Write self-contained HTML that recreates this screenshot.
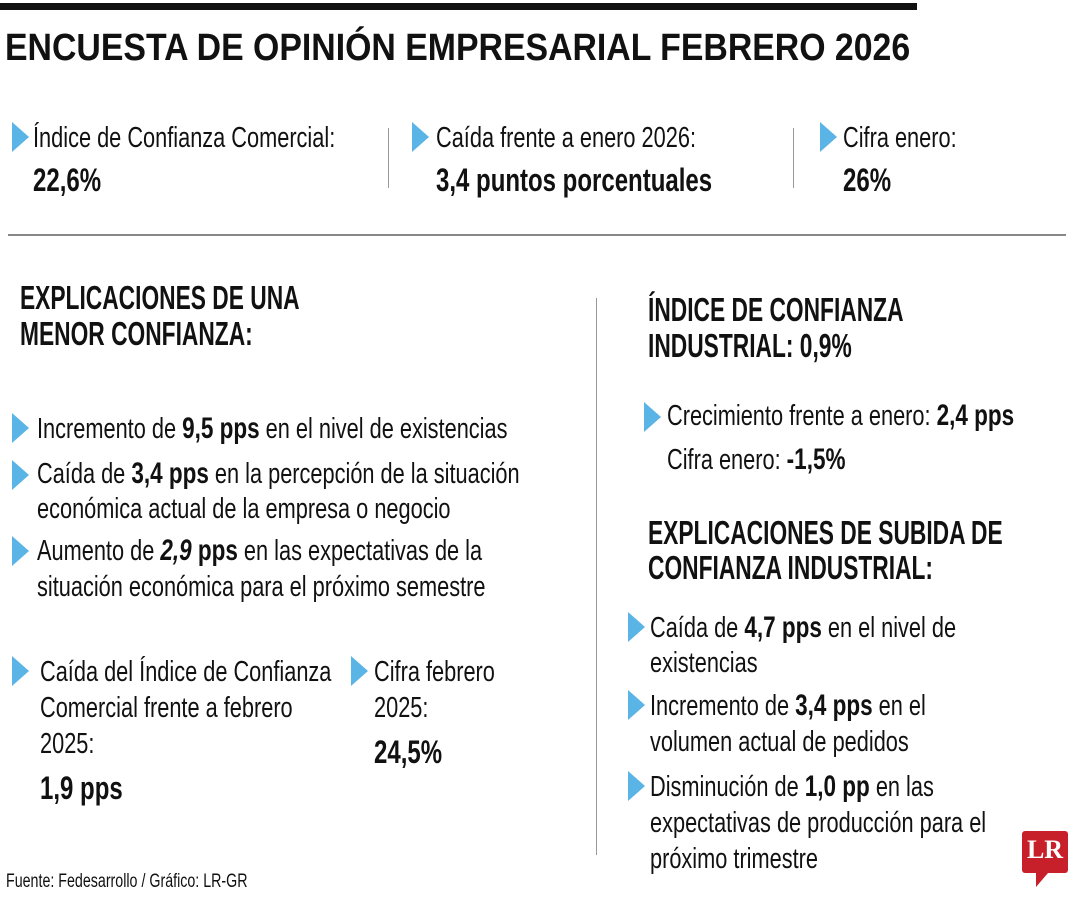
<!DOCTYPE html>
<html><head><meta charset="utf-8">
<style>
body{margin:0;width:1080px;height:900px;background:#fff;position:relative;overflow:hidden;font-family:"Liberation Sans",sans-serif;color:#111}
.l{position:absolute;white-space:nowrap;font-size:29px;line-height:36px;transform:scaleX(.75);transform-origin:left center}
.l b{font-size:30px}
.b{font-weight:bold}
.v{font-size:32px}
.h{position:absolute;white-space:nowrap;font-size:33px;line-height:36px;font-weight:bold;transform:scaleX(.69);transform-origin:left center}
.a{position:absolute;width:0;height:0;border-top:15px solid transparent;border-bottom:15px solid transparent;border-left:17px solid #5ab4e5}
.vr{position:absolute;width:1px;background:#999}
</style></head><body>
<div style="position:absolute;left:0;top:3px;width:917px;height:7px;background:#111"></div>
<div style="position:absolute;left:5px;top:27px;font-size:38px;font-weight:bold;white-space:nowrap;transform:scaleX(.89);transform-origin:left center">ENCUESTA DE OPINIÓN EMPRESARIAL FEBRERO 2026</div>

<div class="a" style="left:12px;top:122px"></div>
<div class="l" style="left:33px;top:120px">Índice de Confianza Comercial:</div>
<div class="l b v" style="left:33px;top:162px">22,6%</div>
<div class="vr" style="left:388px;top:128px;height:60px"></div>
<div class="a" style="left:412px;top:122px"></div>
<div class="l" style="left:436px;top:120px">Caída frente a enero 2026:</div>
<div class="l b v" style="left:436px;top:162px">3,4 puntos porcentuales</div>
<div class="vr" style="left:793px;top:128px;height:60px"></div>
<div class="a" style="left:820px;top:122px"></div>
<div class="l" style="left:843px;top:120px">Cifra enero:</div>
<div class="l b v" style="left:843px;top:162px">26%</div>

<div style="position:absolute;left:8px;top:234px;width:1058px;height:2px;background:#888"></div>

<div class="h" style="left:20px;top:280px">EXPLICACIONES DE UNA</div>
<div class="h" style="left:20px;top:316px">MENOR CONFIANZA:</div>

<div class="a" style="left:12px;top:413px"></div>
<div class="l" style="left:37px;top:411px">Incremento de <b>9,5 pps</b> en el nivel de existencias</div>
<div class="a" style="left:12px;top:460px"></div>
<div class="l" style="left:37px;top:456px">Caída de <b>3,4 pps</b> en la percepción de la situación</div>
<div class="l" style="left:37px;top:491px">económica actual de la empresa o negocio</div>
<div class="a" style="left:12px;top:536px"></div>
<div class="l" style="left:37px;top:533px">Aumento de <b><i>2,9</i> pps</b> en las expectativas de la</div>
<div class="l" style="left:37px;top:569px">situación económica para el próximo semestre</div>

<div class="a" style="left:12px;top:656px"></div>
<div class="l" style="left:40px;top:654px">Caída del Índice de Confianza</div>
<div class="l" style="left:40px;top:690px">Comercial frente a febrero</div>
<div class="l" style="left:40px;top:726px">2025:</div>
<div class="l b v" style="left:40px;top:770px">1,9 pps</div>
<div class="a" style="left:351px;top:656px"></div>
<div class="l" style="left:374px;top:654px">Cifra febrero</div>
<div class="l" style="left:374px;top:690px">2025:</div>
<div class="l b v" style="left:374px;top:734px">24,5%</div>

<div class="vr" style="left:596px;top:298px;height:557px"></div>

<div class="h" style="left:648px;top:292px">ÍNDICE DE CONFIANZA</div>
<div class="h" style="left:648px;top:328px">INDUSTRIAL: 0,9%</div>
<div class="a" style="left:644px;top:402px"></div>
<div class="l" style="left:667px;top:398px">Crecimiento frente a enero: <b>2,4 pps</b></div>
<div class="l" style="left:667px;top:442px">Cifra enero: <b>-1,5%</b></div>

<div class="h" style="left:648px;top:515px">EXPLICACIONES DE SUBIDA DE</div>
<div class="h" style="left:648px;top:550px">CONFIANZA INDUSTRIAL:</div>
<div class="a" style="left:628px;top:612px"></div>
<div class="l" style="left:650px;top:610px">Caída de <b>4,7 pps</b> en el nivel de</div>
<div class="l" style="left:650px;top:645px">existencias</div>
<div class="a" style="left:628px;top:690px"></div>
<div class="l" style="left:650px;top:688px">Incremento de <b>3,4 pps</b> en el</div>
<div class="l" style="left:650px;top:724px">volumen actual de pedidos</div>
<div class="a" style="left:628px;top:771px"></div>
<div class="l" style="left:650px;top:769px">Disminución de <b>1,0 pp</b> en las</div>
<div class="l" style="left:650px;top:805px">expectativas de producción para el</div>
<div class="l" style="left:650px;top:841px">próximo trimestre</div>

<div style="position:absolute;left:6px;top:871px;font-size:19px;white-space:nowrap;transform:scaleX(.75);transform-origin:left center">Fuente: Fedesarrollo / Gráfico: LR-GR</div>

<div style="position:absolute;left:1022px;top:831px;width:46px;height:42px;background:#c8202a;border-radius:3px">
<div style="position:absolute;left:0;top:4px;width:46px;text-align:center;color:#fff;font-family:'Liberation Serif',serif;font-weight:bold;font-size:26px">LR</div>
<div style="position:absolute;left:14px;top:42px;width:0;height:0;border-top:14px solid #c8202a;border-right:12px solid transparent"></div>
</div>
</body></html>
